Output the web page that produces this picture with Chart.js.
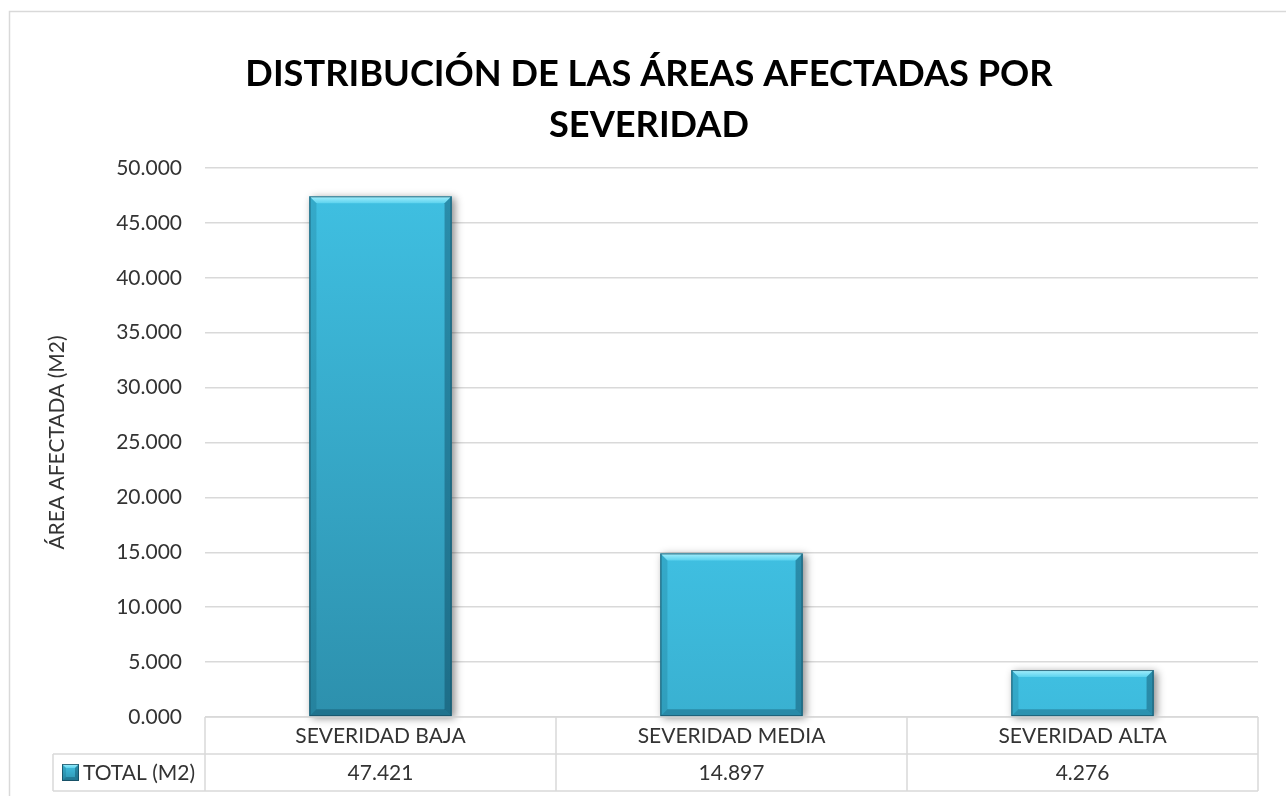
<!DOCTYPE html>
<html><head><meta charset="utf-8">
<script src="https://cdn.jsdelivr.net/npm/chart.js@4.4.0/dist/chart.umd.min.js"></script>
<style>html,body{margin:0;padding:0;background:#fff}#wrap{width:1286px;height:796px;position:relative}</style>
</head><body><div id="wrap"><canvas id="c"></canvas></div>
<script>
const titleLines = ['DISTRIBUCIÓN DE LAS ÁREAS AFECTADAS POR', 'SEVERIDAD'];
const categories = ['SEVERIDAD BAJA', 'SEVERIDAD MEDIA', 'SEVERIDAD ALTA'];
const totalM2 = [47.421, 14.897, 4.276];
const seriesName = 'TOTAL (M2)';
const yAxisTitle = 'ÁREA AFECTADA (M2)';
const yMin = 0, yMax = 50, yStep = 5;

const FONT = 'Lato, "Open Sans", sans-serif';
const TEXT = '#333333';
const LINE = '#d9d9d9';

function fmt(v) { return Number(v).toFixed(3); }

function poly(ctx, pts, fill) {
  ctx.beginPath();
  ctx.moveTo(pts[0][0], pts[0][1]);
  for (let i = 1; i < pts.length; i++) ctx.lineTo(pts[i][0], pts[i][1]);
  ctx.closePath();
  ctx.fillStyle = fill;
  ctx.fill();
}

function bevel(ctx, L, T, R, B, b) {
  let g = ctx.createLinearGradient(0, T, 0, T + b);
  g.addColorStop(0, '#a6f0fd');
  g.addColorStop(1, '#5cd2ee');
  poly(ctx, [[L, T], [R, T], [R - b, T + b], [L + b, T + b]], g);
  poly(ctx, [[L, T], [L + b, T + b], [L + b, B - b], [L, B]], 'rgba(0,60,80,0.16)');
  poly(ctx, [[R, T], [R - b, T + b], [R - b, B - b], [R, B]], 'rgba(0,40,60,0.33)');
  poly(ctx, [[L, B], [L + b, B - b], [R - b, B - b], [R, B]], 'rgba(0,40,60,0.28)');
  ctx.strokeStyle = 'rgba(20,70,90,0.75)';
  ctx.lineWidth = 1;
  ctx.strokeRect(L + 0.5, T + 0.5, R - L - 1, B - T - 1);
}

const decor = {
  id: 'decor',
  beforeDraw(chart) {
    const ctx = chart.ctx;
    ctx.save();
    ctx.fillStyle = '#fff';
    ctx.fillRect(0, 0, chart.width, chart.height);
    ctx.strokeStyle = LINE;
    ctx.lineWidth = 1.5;
    ctx.strokeRect(9.5, 11.5, chart.width + 20, chart.height + 20);
    // title
    ctx.fillStyle = '#000';
    ctx.textAlign = 'center';
    ctx.textBaseline = 'alphabetic';
    ctx.font = 'bold 40px ' + FONT;
    const w = ctx.measureText(titleLines[0]).width;
    const size = 40 * 808 / w;
    ctx.font = 'bold ' + size.toFixed(1) + 'px ' + FONT;
    ctx.fillText(titleLines[0], 649, 86);
    ctx.fillText(titleLines[1], 649, 137);
    // y axis title
    const ca = chart.chartArea;
    ctx.save();
    ctx.translate(57, (ca.top + ca.bottom) / 2);
    ctx.rotate(-Math.PI / 2);
    ctx.font = '21px ' + FONT;
    ctx.fillStyle = TEXT;
    ctx.textBaseline = 'middle';
    ctx.fillText(yAxisTitle, 0, 0);
    ctx.restore();
    ctx.restore();
  },
  beforeDatasetsDraw(chart) {
    const ctx = chart.ctx;
    const meta = chart.getDatasetMeta(0);
    ctx.save();
    meta.data.forEach(el => {
      const L = el.x - el.width / 2, R = el.x + el.width / 2;
      ctx.shadowColor = 'rgba(0,0,0,0.45)';
      ctx.shadowBlur = 8;
      ctx.shadowOffsetX = 3;
      ctx.shadowOffsetY = 2;
      ctx.fillStyle = '#2d90ad';
      ctx.fillRect(L, el.y, R - L, el.base - el.y);
    });
    ctx.restore();
  },
  afterDatasetsDraw(chart) {
    const ctx = chart.ctx;
    const meta = chart.getDatasetMeta(0);
    ctx.save();
    meta.data.forEach(el => {
      bevel(ctx, el.x - el.width / 2, el.y, el.x + el.width / 2, el.base, 7);
    });
    ctx.restore();
  },
  afterDraw(chart) {
    const ctx = chart.ctx;
    const ca = chart.chartArea;
    const xs = chart.scales.x;
    const n = categories.length;
    const cw = (ca.right - ca.left) / n;
    const r0 = ca.bottom, r1 = r0 + 37, r2 = r1 + 37;
    const leftCol = 53;
    ctx.save();
    ctx.strokeStyle = LINE;
    ctx.lineWidth = 1.5;
    ctx.beginPath();
    ctx.moveTo(ca.left, r0); ctx.lineTo(ca.right, r0);
    ctx.moveTo(leftCol, r1); ctx.lineTo(ca.right, r1);
    ctx.moveTo(leftCol, r2); ctx.lineTo(ca.right, r2);
    ctx.moveTo(leftCol, r1); ctx.lineTo(leftCol, r2);
    for (let i = 0; i <= n; i++) {
      const x = ca.left + i * cw;
      ctx.moveTo(x, r0); ctx.lineTo(x, r2);
    }
    ctx.stroke();
    ctx.fillStyle = TEXT;
    ctx.font = '21px ' + FONT;
    ctx.textAlign = 'center';
    ctx.textBaseline = 'middle';
    categories.forEach((c, i) => {
      const cx = xs.getPixelForValue(i);
      ctx.fillText(c, cx, (r0 + r1) / 2 + 1);
      ctx.fillText(fmt(totalM2[i]), cx, (r1 + r2) / 2 + 1);
    });
    // legend key
    const my = (r1 + r2) / 2;
    const kS = 17, kL = 62, kT = my - kS / 2;
    const g = ctx.createLinearGradient(0, kT, 0, kT + kS);
    g.addColorStop(0, '#43c2e3'); g.addColorStop(1, '#2e94b1');
    ctx.fillStyle = g;
    ctx.fillRect(kL, kT, kS, kS);
    bevel(ctx, kL, kT, kL + kS, kT + kS, 4);
    ctx.fillStyle = TEXT;
    ctx.textAlign = 'left';
    ctx.fillText(seriesName, 83, my + 1);
    ctx.restore();
  }
};

new Chart(document.getElementById('c'), {
  type: 'bar',
  data: {
    labels: categories,
    datasets: [{
      label: seriesName,
      data: totalM2,
      backgroundColor: (c) => {
        const chart = c.chart;
        if (!chart.chartArea || c.type !== 'data') return '#3bb8db';
        const top = chart.scales.y.getPixelForValue(c.raw);
        const g = chart.ctx.createLinearGradient(0, top, 0, top + 520);
        g.addColorStop(0, '#3fbfe1');
        g.addColorStop(1, '#2d90ad');
        return g;
      },
      borderWidth: 0,
      barPercentage: 0.405,
      categoryPercentage: 1
    }]
  },
  options: {
    responsive: true,
    maintainAspectRatio: false,
    animation: false,
    layout: { padding: { left: 0, right: 28, top: 168, bottom: 79 } },
    plugins: { legend: { display: false }, tooltip: { enabled: false }, title: { display: false } },
    scales: {
      x: { display: false },
      y: {
        min: yMin, max: yMax,
        afterFit(s) { s.width = 205; },
        ticks: { stepSize: yStep, padding: 23, color: TEXT, font: { family: FONT, size: 21 }, callback: v => fmt(v) },
        grid: { color: LINE, lineWidth: 1.5, drawTicks: false },
        border: { display: false }
      }
    }
  },
  plugins: [decor]
});
</script>
</body></html>
